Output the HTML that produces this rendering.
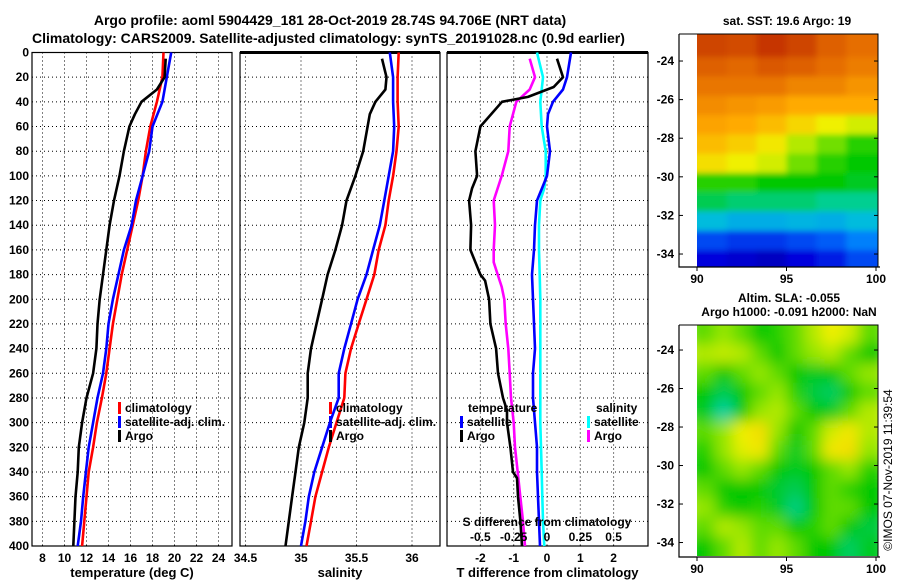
<!DOCTYPE html>
<html><head><meta charset="utf-8"><style>
html,body{margin:0;padding:0;background:#fff;}
svg{display:block;font-family:"Liberation Sans",Arial,sans-serif;font-weight:bold;}
</style></head><body>
<svg id="c" width="900" height="580" viewBox="0 0 900 580" xmlns="http://www.w3.org/2000/svg">
<defs>
<filter id="bl" x="0" y="0" width="1" height="1"><feGaussianBlur stdDeviation="3"/></filter>
<filter id="bl2" x="0" y="0" width="1" height="1"><feGaussianBlur stdDeviation="7"/></filter>
<clipPath id="cm1"><rect x="697" y="34" width="181" height="233"/></clipPath>
<clipPath id="cm2"><rect x="697" y="325" width="181" height="231"/></clipPath>
</defs>
<text x="330" y="25" font-size="14" text-anchor="middle">Argo profile: aoml 5904429_181 28-Oct-2019 28.74S 94.706E (NRT data)</text>
<text x="32" y="43" font-size="14">Climatology: CARS2009. Satellite-adjusted climatology: synTS_20191028.nc (0.9d earlier)</text>
<text x="787" y="25" font-size="12" text-anchor="middle">sat. SST: 19.6 Argo: 19</text>
<text x="789" y="302" font-size="12" text-anchor="middle">Altim. SLA: -0.055</text>
<text x="789" y="316" font-size="12" text-anchor="middle">Argo h1000: -0.091 h2000: NaN</text>
<text x="0" y="0" font-size="12" font-weight="normal" transform="translate(892,470) rotate(-90)" text-anchor="middle">©IMOS 07-Nov-2019 11:39:54</text>
<g id="plots"></g>
</svg>
<script>
const depthTicks=[0,20,40,60,80,100,120,140,160,180,200,220,240,260,280,300,320,340,360,380,400];
const tTicks=[8,10,12,14,16,18,20,22,24];
const sTicks=[34.5,35,35.5,36];
const dTTicks=[-2,-1,0,1,2];
const dSTicks=[-0.5,-0.25,0,0.25,0.5];
const dSTickLabels=['-0.5','-0.25','0','0.25','0.5'];
const sTickLabels=['34.5','35','35.5','36'];

const depths=[0,20,40,60,80,100,120,140,160,180,200,220,240,260,280,300,320,340,360,380,400];
const tClim=[19.0,18.9,18.4,17.8,17.4,17.1,16.7,16.2,15.7,15.2,14.8,14.4,14.1,13.8,13.4,12.95,12.6,12.2,12.0,11.8,11.6];
const tSat=[19.7,19.3,18.9,18.0,17.7,17.1,16.5,16.1,15.4,14.9,14.4,14.0,13.8,13.5,13.0,12.6,12.2,11.95,11.7,11.5,11.2];
const argoDepths=[5,20,30,40,50,60,80,100,120,140,160,180,200,220,240,260,280,300,320,340,360,380,400];
const tArgo=[19.2,19.1,18.4,17.0,16.4,15.9,15.4,15.0,14.5,14.1,13.8,13.5,13.2,13.0,12.9,12.6,12.0,11.6,11.3,11.2,11.0,10.9,10.8];
const sClim=[35.88,35.87,35.87,35.88,35.86,35.83,35.79,35.76,35.70,35.66,35.59,35.52,35.45,35.40,35.39,35.32,35.25,35.19,35.13,35.09,35.05];
const sSat=[35.80,35.83,35.83,35.84,35.83,35.79,35.75,35.71,35.65,35.59,35.51,35.45,35.39,35.34,35.34,35.26,35.19,35.12,35.07,35.04,35.0];
const sArgo=[35.73,35.77,35.76,35.67,35.62,35.60,35.56,35.49,35.41,35.37,35.31,35.24,35.19,35.14,35.09,35.06,35.06,35.03,34.98,34.95,34.92,34.89,34.86];
const diffDepths=[5,20,28,36,40,60,80,100,110,120,140,160,180,185,200,220,240,260,280,290,300,320,340,345,360,380,400];
const dTArgo=[0.3,0.48,0.2,-0.57,-1.35,-2.0,-2.15,-2.1,-2.25,-2.34,-2.28,-2.3,-2.0,-1.86,-1.74,-1.7,-1.53,-1.47,-1.32,-1.2,-1.2,-1.1,-1.02,-0.9,-0.87,-0.8,-0.75];
const satDepths=[0,20,30,40,50,60,80,100,110,120,140,160,180,200,240,260,280,300,320,340,360,380,400];
const dTSat=[0.72,0.6,0.48,0.18,0.03,0,0.09,0,-0.15,-0.3,-0.36,-0.39,-0.45,-0.42,-0.36,-0.42,-0.42,-0.36,-0.3,-0.3,-0.27,-0.24,-0.21];
const dSSat=[-0.075,-0.03,-0.04,-0.05,-0.045,-0.04,-0.01,-0.01,-0.02,-0.05,-0.06,-0.06,-0.055,-0.05,-0.05,-0.05,-0.05,-0.05,-0.045,-0.04,-0.035,-0.03,-0.02];
const sArgoDiffDepths=[5,20,30,40,60,80,100,120,140,160,170,180,190,200,220,240,260,280,300,320,340,360,380,400];
const dSArgo=[-0.13,-0.09,-0.13,-0.23,-0.28,-0.29,-0.34,-0.4,-0.39,-0.4,-0.4,-0.37,-0.34,-0.32,-0.31,-0.29,-0.28,-0.27,-0.25,-0.24,-0.22,-0.2,-0.18,-0.165];

const sstLats=[-23.3,-24.3,-25.3,-26.3,-27.3,-28.3,-29.3,-30.3,-31.3,-32.3,-33.3,-34.3];
const sstGrid=[
[.86,.85,.88,.86,.82,.80],
[.82,.81,.83,.82,.80,.78],
[.79,.79,.79,.77,.77,.75],
[.76,.75,.74,.72,.72,.72],
[.73,.72,.70,.67,.64,.62],
[.70,.68,.65,.60,.56,.52],
[.66,.64,.62,.56,.52,.50],
[.52,.52,.5,.5,.5,.48],
[.45,.43,.43,.43,.41,.41],
[.34,.32,.32,.33,.32,.34],
[.2,.18,.18,.2,.22,.26],
[.12,.1,.08,.12,.15,.2]];
const slaLats=[-23.2,-24.2,-25.2,-26.2,-27.2,-28.2,-29.2,-30.2,-31.2,-32.2,-33.2,-34.2];
const slaGrid=[
[.55,.58,.55,.5,.52,.55,.6,.64,.62,.55],
[.6,.61,.6,.55,.5,.55,.58,.6,.55,.5],
[.55,.5,.55,.58,.55,.5,.48,.5,.55,.58],
[.5,.45,.5,.55,.58,.52,.46,.44,.5,.55],
[.48,.4,.5,.58,.6,.55,.5,.48,.55,.6],
[.55,.58,.64,.66,.58,.5,.55,.62,.65,.6],
[.52,.58,.63,.65,.55,.48,.55,.65,.66,.58],
[.5,.55,.58,.55,.5,.48,.5,.55,.58,.52],
[.55,.5,.5,.5,.47,.45,.5,.55,.52,.5],
[.58,.52,.5,.52,.48,.42,.5,.55,.55,.5],
[.55,.6,.58,.55,.55,.5,.52,.55,.5,.46],
[.5,.55,.6,.55,.58,.55,.5,.5,.44,.48]];
const latTicks=[-24,-26,-28,-30,-32,-34];
const lonTicks=[90,95,100];

const NS='http://www.w3.org/2000/svg';
const G=document.getElementById('plots');
function mk(tag,at,parent){const e=document.createElementNS(NS,tag);for(const k in at)e.setAttribute(k,at[k]);(parent||G).appendChild(e);return e;}
function txt(x,y,s,anchor,size){const e=mk('text',{x:x,y:y,'font-size':size||12,'text-anchor':anchor||'middle'});e.textContent=s;return e;}

const Y0=52.5,Y1=546;
const yD=d=>Y0+(d/400)*(Y1-Y0);
const xT=v=>42.5+(v-8)*11;
const xS=v=>301+(v-35)*111;
const xDT=v=>547+v*33.3;
const xDS=v=>547+v*133.3;

function panel(x0,x1,name,xTicksArr,xf,labels,title,topThick){
  const g=mk('g',{});
  
  
  depthTicks.forEach(d=>{if(d>0&&d<400){const l=mk('line',{x1:x0,x2:x1,y1:yD(d),y2:yD(d),stroke:'#000','stroke-width':1,'stroke-dasharray':'1,3'},g);}});
  xTicksArr.forEach((v,i)=>{const x=xf(v);const l=mk('line',{x1:x,x2:x,y1:Y0,y2:Y1,stroke:'#000','stroke-width':1,'stroke-dasharray':'1,3'},g);
    const t=txt(x,562,labels[i]);});
  const b=mk('rect',{x:x0,y:Y0,width:x1-x0,height:Y1-Y0,fill:'none',stroke:'#000','stroke-width':1.2},g);
  
  if(topThick){const tl=mk('line',{x1:x0,x2:x1,y1:Y0,y2:Y0,stroke:'#000','stroke-width':3},g);}
  const tt=txt((x0+x1)/2,577,title,'middle',13);
  return g;
}
function line(xs,ys,xf,color,name){
  const pts=xs.map((v,i)=>xf(v).toFixed(1)+','+yD(ys[i]).toFixed(1)).join(' ');
  const p=mk('polyline',{points:pts,fill:'none',stroke:color,'stroke-width':2.6,'stroke-linejoin':'round'});
  
  
}
function legend(x,y,color,label){
  const r=mk('rect',{x:x,y:y-10,width:3,height:12,fill:color});
  
  
  const t=txt(x+7,y,label,'start',12);
  
  
}

depthTicks.forEach(d=>{const t=txt(29,yD(d)+4,String(d),'end',12);});

panel(32,232,'temperature-panel',tTicks,xT,tTicks.map(String),'temperature (deg C)',false);
line(tClim,depths,xT,'#f00','temp-climatology-line');
line(tSat,depths,xT,'#00f','temp-satellite-line');
line(tArgo,argoDepths,xT,'#000','temp-argo-line');
legend(118,412,'#f00','climatology');legend(118,426,'#00f','satellite-adj. clim.');legend(118,440,'#000','Argo');

panel(240,440,'salinity-panel',sTicks,xS,sTickLabels,'salinity',true);
line(sClim,depths,xS,'#f00','sal-climatology-line');
line(sSat,depths,xS,'#00f','sal-satellite-line');
line(sArgo,argoDepths,xS,'#000','sal-argo-line');
legend(329,412,'#f00','climatology');legend(329,426,'#00f','satellite-adj. clim.');legend(329,440,'#000','Argo');

panel(447,648,'difference-panel',dTTicks,xDT,dTTicks.map(String),'T difference from climatology',true);
line(dSSat,satDepths,xDS,'#0ff','sal-diff-satellite-line');
line(dSArgo,sArgoDiffDepths,xDS,'#f0f','sal-diff-argo-line');
line(dTSat,satDepths,xDT,'#00f','temp-diff-satellite-line');
line(dTArgo,diffDepths,xDT,'#000','temp-diff-argo-line');
{const t=txt(468,412,'temperature','start',12);}
{const t=txt(596,412,'salinity','start',12);}
legend(460,426,'#00f','satellite');legend(460,440,'#000','Argo');
legend(587,426,'#0ff','satellite');legend(587,440,'#f0f','Argo');
{const t=txt(547,526,'S difference from climatology','middle',12);}
dSTicks.forEach((v,i)=>{const t=txt(xDS(v),541,dSTickLabels[i],'middle',12);});

const cmapStops=[0,0.12,0.25,0.37,0.5,0.58,0.64,0.72,0.8,0.9,1];
const cmapColors=[[0,0,140],[0,0,220],[0,120,255],[0,210,210],[0,200,0],[150,230,0],[240,240,0],[255,170,0],[230,110,0],[190,40,0],[140,0,0]];
function cmap(v){
  v=Math.max(0,Math.min(1,v));
  let i=0;while(i<cmapStops.length-2&&v>cmapStops[i+1])i++;
  const f=(v-cmapStops[i])/(cmapStops[i+1]-cmapStops[i]);
  const a=cmapColors[i],b=cmapColors[i+1];
  return 'rgb('+a.map((c,k)=>Math.round(c+(b[k]-c)*f)).join(',')+')';
}
function map(name,top,bottom,latTop,pxPerLat,lats,grid,clip,filt){
  const lonX=l=>697+(l-90)*17.9;
  const latY=l=>top+(latTop-l)*pxPerLat;
  const g=mk('g',{'clip-path':'url(#'+clip+')'});
  
  
  const inner=mk('g',{filter:'url(#'+filt+')'},g);
  const nc=grid[0].length, dl=10/nc;
  grid.forEach((row,ri)=>row.forEach((v,ci)=>{
    const y=latY(lats[ri]+0.5);
    const r=mk('rect',{x:lonX(90+ci*dl)-(ci==0?10:0),y:y-(ri==0?12:0),width:dl*17.9+1+(ci==0||ci==nc-1?10:0),height:pxPerLat+1+(ri==0||ri==grid.length-1?14:0),fill:cmap(v)},inner);
    
    
  }));
  const ax=mk('polyline',{points:'679,'+top+' 679,'+bottom+' 880,'+bottom,fill:'none',stroke:'#000','stroke-width':1.2});
  
  const fr=mk('polyline',{points:'679,'+top+' 878,'+top+' 878,'+bottom,fill:'none',stroke:'#000','stroke-width':1});
  
  latTicks.forEach(l=>{const y=latY(l);mk('line',{x1:679,x2:683,y1:y,y2:y,stroke:'#000'});mk('line',{x1:874,x2:878,y1:y,y2:y,stroke:'#000'});
    const t=txt(674,y+4,String(l),'end',12);});
  lonTicks.forEach(l=>{const x=lonX(l);mk('line',{x1:x,x2:x,y1:bottom,y2:bottom+4,stroke:'#000'});
    const t=txt(x,bottom+16,String(l),'middle',12);});
}
map('sst-map',34,267,-22.6,19.3,sstLats,sstGrid,'cm1','bl');
map('sla-map',325,557,-22.7,19.25,slaLats,slaGrid,'cm2','bl2');
</script>
</body></html>
